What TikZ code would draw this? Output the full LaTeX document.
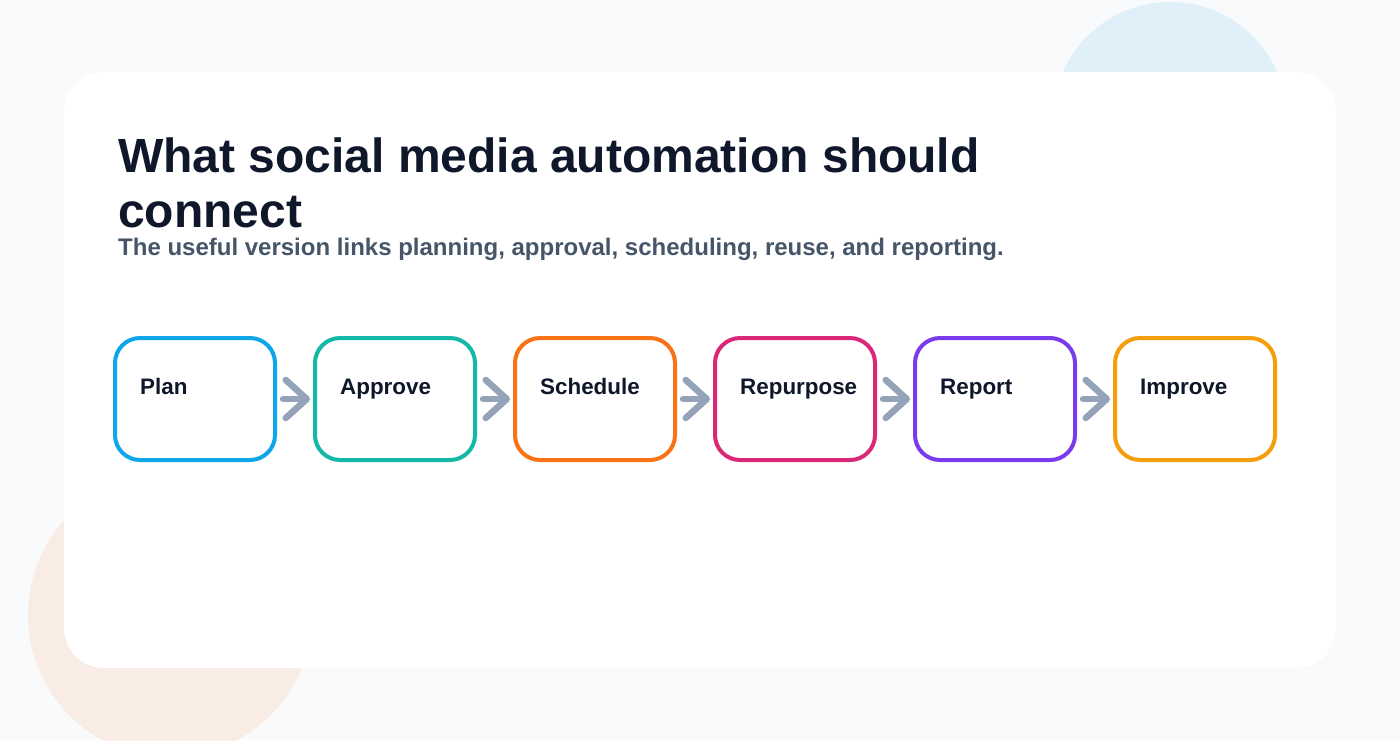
\documentclass[tikz,border=0pt]{standalone}
\usepackage{fontspec}
\setmainfont{Liberation Sans}
\usetikzlibrary{arrows.meta}
\definecolor{bgc}{HTML}{F8FAFC}
\definecolor{blobblue}{RGB}{224,240,249}
\definecolor{bloborange}{RGB}{249,236,228}
\definecolor{titlec}{HTML}{0F172A}
\definecolor{subc}{HTML}{475569}
\definecolor{arrc}{HTML}{94A3B8}
\definecolor{cplan}{HTML}{0EA5E9}
\definecolor{capprove}{HTML}{14B8A6}
\definecolor{cschedule}{HTML}{F97316}
\definecolor{crepurpose}{HTML}{DB2777}
\definecolor{creport}{HTML}{7C3AED}
\definecolor{cimprove}{HTML}{F59E0B}
\begin{document}
\begin{tikzpicture}[x=1pt,y=-1pt,
  stepbox/.style={draw=#1, line width=4pt, rounded corners=25pt, fill=white,
    minimum width=160pt, minimum height=122pt, inner sep=0pt},
  steplabel/.style={anchor=base west, inner sep=0pt, text=titlec,
    font=\bfseries\fontsize{22.4}{26}\selectfont},
  flow/.style={draw=arrc, line width=6.5pt, line cap=round,
    -{Straight Barb[length=21pt,width=38pt,round]}, shorten <=6pt, shorten >=3pt}]
\useasboundingbox (0,0) rectangle (1400,740);
\fill[bgc] (0,0) rectangle (1400,740);
\fill[blobblue] (1170,119) circle[radius=117];
\fill[bloborange] (170,615) circle[radius=142];
\fill[white, rounded corners=40pt] (64,72) rectangle (1336,668);
\node[anchor=base west, inner sep=0pt, text=titlec, align=left,
  font=\bfseries\fontsize{48}{55}\selectfont] (title) at (118,227)
  {What social media automation should\\connect};
\node[anchor=base west, inner sep=0pt, text=subc,
  font=\bfseries\fontsize{24}{28}\selectfont] (subtitle) at (118,255)
  {The useful version links planning, approval, scheduling, reuse, and reporting.};
\foreach \i/\name/\col in {0/Plan/cplan,1/Approve/capprove,2/Schedule/cschedule,
  3/Repurpose/crepurpose,4/Report/creport,5/Improve/cimprove}{
  \node[stepbox=\col] (b\i) at (195+200*\i,399) {};
  \node[steplabel] (t\i) at (140+200*\i,394) {\name};
}
\foreach \i [evaluate=\i as \j using int(\i+1)] in {0,...,4}{
  \draw[flow] (b\i.east) -- (b\j.west);
}
\end{tikzpicture}
\end{document}
